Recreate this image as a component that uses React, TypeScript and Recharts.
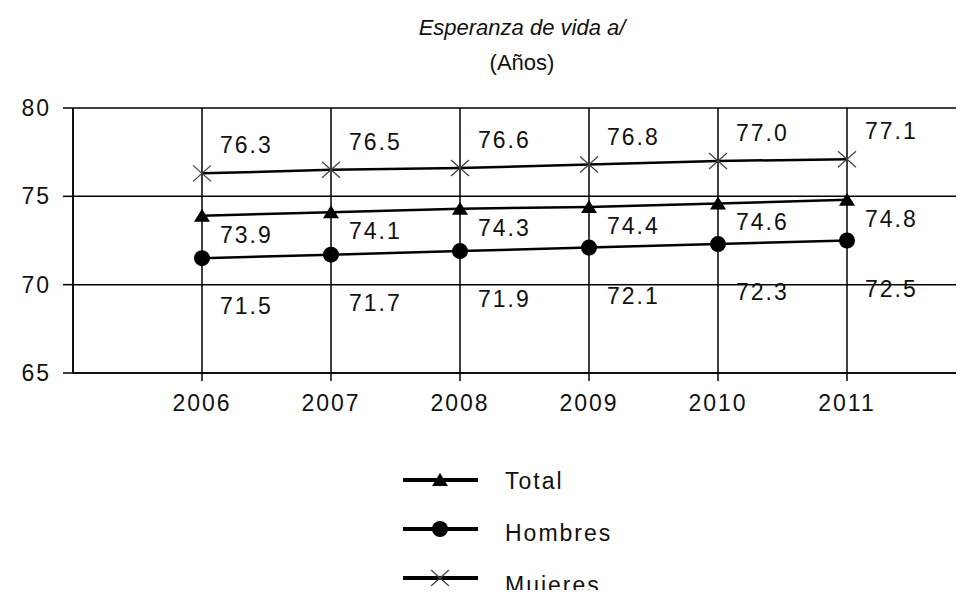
import { CartesianGrid, LabelList, Line, LineChart, XAxis, YAxis } from 'recharts'

const years = [2006, 2007, 2008, 2009, 2010, 2011]
const total = [73.9, 74.1, 74.3, 74.4, 74.6, 74.8]
const hombres = [71.5, 71.7, 71.9, 72.1, 72.3, 72.5]
const mujeres = [76.3, 76.5, 76.6, 76.8, 77.0, 77.1]
const yTicks = [65, 70, 75, 80]

const data = years.map((year, i) => ({ year, total: total[i], hombres: hombres[i], mujeres: mujeres[i] }))

const FONT = '"Liberation Sans", Arial, sans-serif'
const textStyle = { fontFamily: FONT, fontSize: 23, fill: '#111', letterSpacing: 2 }

function Triangle({ cx, cy }: any) {
  if (cx == null || cy == null) return null
  return <path d={`M${cx},${cy - 7} L${cx + 8},${cy + 6} L${cx - 8},${cy + 6} Z`} fill="#000" />
}

function Dot({ cx, cy }: any) {
  if (cx == null || cy == null) return null
  return <circle cx={cx} cy={cy} r={8} fill="#000" />
}

function Cross({ cx, cy }: any) {
  if (cx == null || cy == null) return null
  return (
    <path d={`M${cx - 9},${cy - 8} L${cx + 9},${cy + 8} M${cx - 9},${cy + 8} L${cx + 9},${cy - 8}`} stroke="#444" strokeWidth={1.3} fill="none" />
  )
}

const makeLabel = (dy: number) => (props: any) => {
  const { x, y, value } = props
  return (
    <text x={x + 18} y={y + dy} dominantBaseline="central" textAnchor="start" style={textStyle}>
      {Number(value).toFixed(1)}
    </text>
  )
}

const legendItems = [
  { name: 'Total', Marker: Triangle },
  { name: 'Hombres', Marker: Dot },
  { name: 'Mujeres', Marker: Cross },
]

function ChartLegend() {
  return (
    <svg width={260} height={140} style={{ position: 'absolute', left: 403, top: 468 }}>
      {legendItems.map((item, i) => {
        const y = 12 + i * 49
        return (
          <g key={item.name}>
            <line x1={0} x2={75} y1={y} y2={y} stroke="#000" strokeWidth={4} />
            <item.Marker cx={37} cy={y} />
            <text x={102} y={y + 1 + i * 3} dominantBaseline="central" style={textStyle}>{item.name}</text>
          </g>
        )
      })}
    </svg>
  )
}

export default function App() {
  return (
    <div style={{ margin: -8, width: 964, height: 598, overflow: 'hidden', position: 'relative', background: '#fff' }}>
      <div style={{ position: 'absolute', left: 0, width: 1044, top: 10, textAlign: 'center', fontFamily: FONT, fontSize: 22, color: '#111', lineHeight: '35px' }}>
        <div style={{ fontStyle: 'italic' }}>Esperanza de vida a/</div>
        <div>(Años)</div>
      </div>
      <LineChart width={990} height={598} data={data} margin={{ top: 108, right: 14, left: 0, bottom: 175 }}>
        <CartesianGrid stroke="#000" strokeWidth={1.5} />
        <XAxis
          dataKey="year"
          type="number"
          domain={[2005, 2012]}
          ticks={years}
          allowDataOverflow
          height={50}
          axisLine={{ stroke: '#000', strokeWidth: 1.5 }}
          tickLine={{ stroke: '#000', strokeWidth: 1.5 }}
          tickSize={8}
          tickMargin={14}
          tick={textStyle}
        />
        <YAxis
          type="number"
          domain={[65, 80]}
          ticks={yTicks}
          width={73}
          axisLine={{ stroke: '#000', strokeWidth: 1.5 }}
          tickLine={{ stroke: '#000', strokeWidth: 1.5 }}
          tickSize={10}
          tickMargin={12}
          tick={textStyle}
        />
        <Line dataKey="mujeres" name="Mujeres" stroke="#000" strokeWidth={2.5} dot={<Cross />} activeDot={false} isAnimationActive={false}>
          <LabelList dataKey="mujeres" content={makeLabel(-28)} />
        </Line>
        <Line dataKey="total" name="Total" stroke="#000" strokeWidth={2.5} dot={<Triangle />} activeDot={false} isAnimationActive={false}>
          <LabelList dataKey="total" content={makeLabel(19)} />
        </Line>
        <Line dataKey="hombres" name="Hombres" stroke="#000" strokeWidth={2.5} dot={<Dot />} activeDot={false} isAnimationActive={false}>
          <LabelList dataKey="hombres" content={makeLabel(48)} />
        </Line>
      </LineChart>
      <ChartLegend />
    </div>
  )
}
